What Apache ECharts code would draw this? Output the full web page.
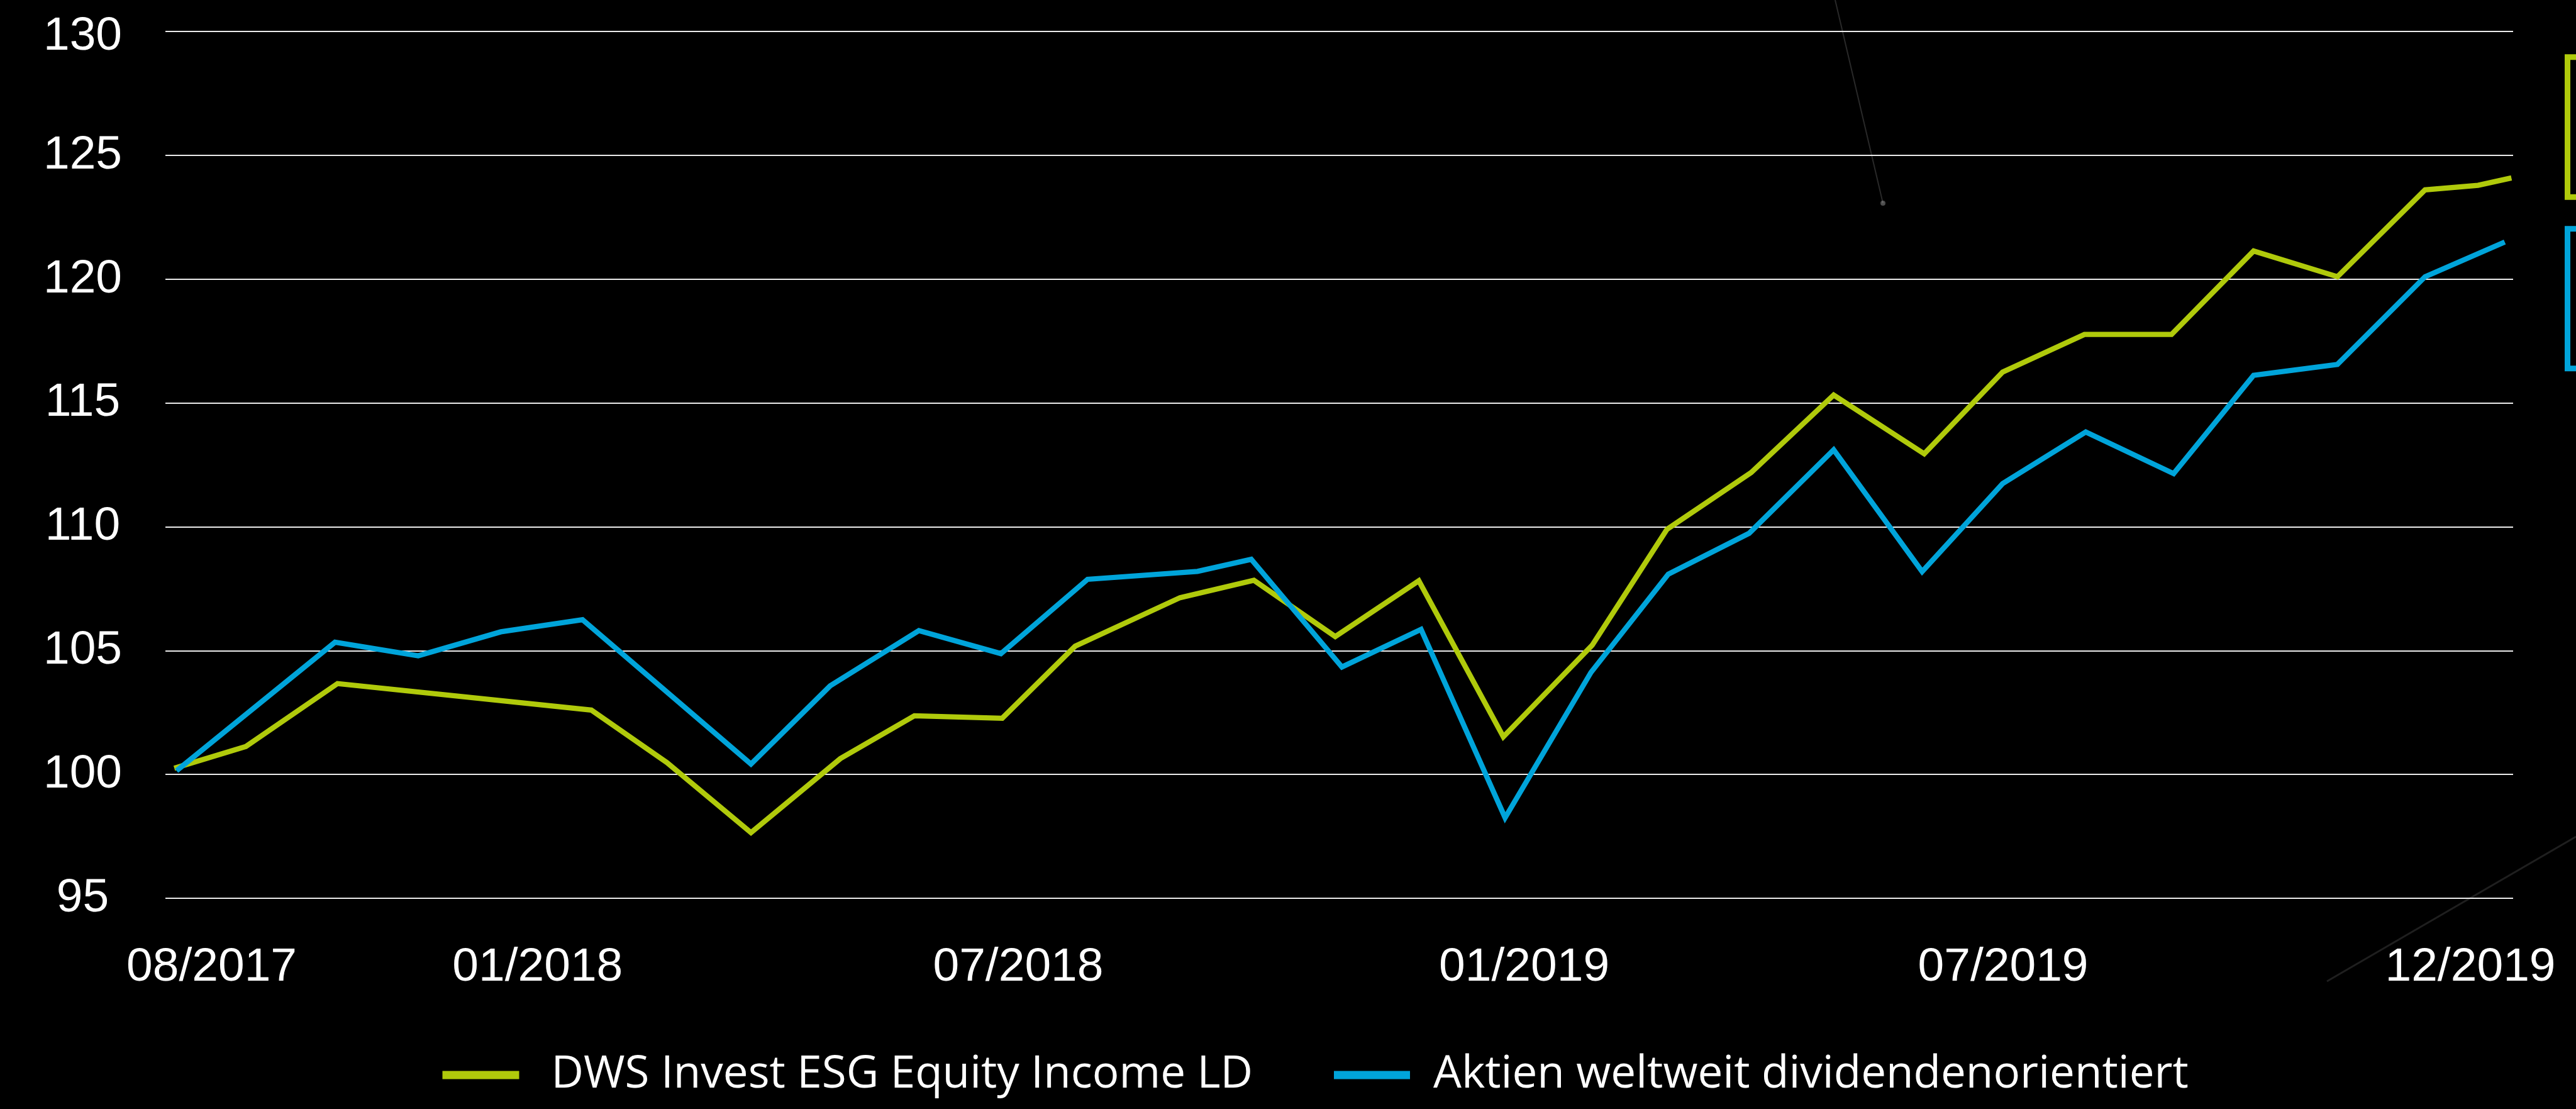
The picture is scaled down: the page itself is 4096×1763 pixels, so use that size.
<!DOCTYPE html>
<html>
<head>
<meta charset="utf-8">
<script src="https://cdn.jsdelivr.net/npm/echarts@6/dist/echarts.min.js"></script>
<style>
  html, body { margin: 0; padding: 0; background: #000; }
  #chart { width: 4096px; height: 1763px; }
</style>
</head>
<body>
<div id="chart"></div>
<script>
// ---- data (x = months since the start of the series, 08/2017) ----
const seriesNames = ['DWS Invest ESG Equity Income LD', 'Aktien weltweit dividendenorientiert'];

const dwsMonths = [0, 0.857, 1.954, 4.993, 5.898, 6.904, 7.974, 8.86, 9.912, 10.785, 12.041, 12.925, 13.899, 14.899, 15.911, 16.975, 17.87, 18.878, 19.866, 20.95, 21.889, 22.868, 23.911, 24.893, 25.897, 26.946, 27.58, 27.98];
const dwsValues = [100.25, 101.13, 103.67, 102.6, 100.48, 97.65, 100.64, 102.37, 102.27, 105.18, 107.14, 107.84, 105.57, 107.82, 101.52, 105.22, 109.9, 112.19, 115.32, 112.95, 116.25, 117.77, 117.77, 121.14, 120.1, 123.61, 123.79, 124.09];

const benchMonths = [0.027, 1.924, 2.92, 3.91, 4.887, 6.904, 7.852, 8.914, 9.896, 10.934, 12.249, 12.893, 13.979, 14.926, 15.932, 16.96, 17.886, 18.854, 19.866, 20.925, 21.889, 22.884, 23.936, 24.893, 25.897, 26.946, 27.9];
const benchValues = [100.15, 105.34, 104.79, 105.76, 106.25, 100.42, 103.58, 105.81, 104.88, 107.88, 108.2, 108.69, 104.34, 105.86, 98.25, 104.12, 108.09, 109.74, 113.11, 108.19, 111.75, 113.83, 112.15, 116.12, 116.56, 120.1, 121.5];

const xTickValues = [0.447, 4.349, 10.103, 16.161, 21.894, 27.488];
const xTickLabels = ['08/2017', '01/2018', '07/2018', '01/2019', '07/2019', '12/2019'];

const yMin = 95, yMax = 130, yStep = 5;

// ---- build ----
const GREEN = '#b0ca0b';
const BLUE = '#00a4da';

function pairs(xs, ys) { return xs.map((x, i) => [x, ys[i]]); }

const chart = echarts.init(document.getElementById('chart'), null, { renderer: 'canvas' });

const legendText = { color: '#ffffff', fontFamily: 'Open Sans', fontSize: 71, lineHeight: 80 };

chart.setOption({
  backgroundColor: '#000000',
  animation: false,
  grid: { left: 263, right: 100, top: 50.2, bottom: 335, containLabel: false },
  xAxis: {
    type: 'value',
    min: -0.1065,
    max: 28,
    axisLine: { show: false },
    axisTick: { show: false },
    splitLine: { show: false },
    axisLabel: {
      customValues: xTickValues,
      color: '#ffffff',
      fontFamily: 'Liberation Sans',
      fontSize: 75,
      margin: 110,
      verticalAlign: 'middle',
      formatter: function (v) {
        const i = xTickValues.findIndex(t => Math.abs(t - v) < 1e-6);
        return i >= 0 ? xTickLabels[i] : '';
      }
    }
  },
  yAxis: {
    type: 'value',
    min: yMin,
    max: yMax,
    interval: yStep,
    axisLine: { show: false },
    axisTick: { show: false },
    splitLine: { show: true, lineStyle: { color: '#ececec', width: 2 } },
    axisLabel: {
      color: '#ffffff',
      fontFamily: 'Liberation Sans',
      fontSize: 75,
      align: 'center',
      margin: 131.5,
      formatter: function (v) {
        return v === yMax ? '{top|' + v + '}' : String(v);
      },
      rich: {
        top: { color: '#ffffff', fontFamily: 'Liberation Sans', fontSize: 75, padding: [16, 0, 0, 0] }
      }
    }
  },
  legend: [
    {
      data: [seriesNames[0]],
      left: 703.5,
      top: 1669,
      padding: 0,
      icon: 'rect',
      itemWidth: 122,
      itemHeight: 13,
      textStyle: Object.assign({ padding: [0, 0, 0, 46] }, legendText)
    },
    {
      data: [seriesNames[1]],
      left: 2121,
      top: 1669,
      padding: 0,
      icon: 'rect',
      itemWidth: 121,
      itemHeight: 13,
      textStyle: Object.assign({ padding: [0, 0, 0, 32] }, legendText)
    }
  ],
  series: [
    {
      name: seriesNames[0],
      type: 'line',
      data: pairs(dwsMonths, dwsValues),
      showSymbol: false,
      color: GREEN,
      lineStyle: { color: GREEN, width: 8.3, cap: 'butt', join: 'miter' },
      z: 2
    },
    {
      name: seriesNames[1],
      type: 'line',
      data: pairs(benchMonths, benchValues),
      showSymbol: false,
      color: BLUE,
      lineStyle: { color: BLUE, width: 8.3, cap: 'butt', join: 'miter' },
      z: 3
    }
  ],
  graphic: [
    { type: 'line', silent: true, z: -1, shape: { x1: 2918, y1: 0, x2: 2994, y2: 323 }, style: { stroke: 'rgba(255,255,255,0.16)', lineWidth: 2 } },
    { type: 'circle', silent: true, z: -1, shape: { cx: 2994, cy: 323, r: 4 }, style: { fill: 'rgba(255,255,255,0.3)' } },
    { type: 'line', silent: true, z: -1, shape: { x1: 3700, y1: 1560, x2: 4096, y2: 1330 }, style: { stroke: 'rgba(255,255,255,0.12)', lineWidth: 3 } },
    { type: 'rect', silent: true, shape: { x: 4082.5, y: 90.8, width: 200, height: 222.5 }, style: { fill: 'none', stroke: GREEN, lineWidth: 9 } },
    { type: 'rect', silent: true, shape: { x: 4082.5, y: 363.7, width: 200, height: 222 }, style: { fill: 'none', stroke: BLUE, lineWidth: 9 } }
  ]
});
</script>
</body>
</html>
